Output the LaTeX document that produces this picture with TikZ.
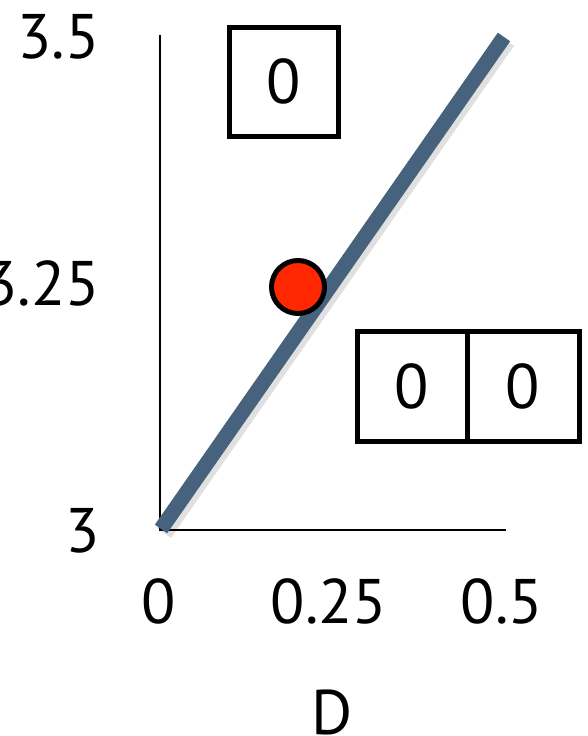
\documentclass[tikz,border=0pt]{standalone}
\usepackage{fontspec}
\setmainfont{PT Sans}
\definecolor{lineblue}{RGB}{70,98,125}
\definecolor{dotred}{RGB}{255,40,0}
\begin{document}
\begin{tikzpicture}[x=1pt,y=-1pt,
  lab/.style={font=\fontsize{63}{70}\selectfont, inner sep=0pt},
  cell/.style={draw, line width=5pt, minimum size=110pt, inner sep=0pt, outer sep=0pt, font=\fontsize{63}{70}\selectfont},
  axis/.style={line width=2.8pt},
  fitline/.style={line width=15pt, draw=lineblue},
  fitshadow/.style={line width=17pt, draw=black, opacity=0.12},
  dotstyle/.style={circle, draw, line width=5pt, fill=dotred, minimum size=53pt, inner sep=0pt}]
\useasboundingbox (0,0) rectangle (588,736);
% axes
\coordinate (origin) at (160,530);
\coordinate (ytop) at (160,35);
\coordinate (xend) at (506,530);
\draw[axis] (ytop) -- (origin) -- (xend);
% fitted line
\coordinate (lstart) at (161,529);
\coordinate (lend) at (504,37);
\draw[fitshadow] ([shift={(3,4)}]lstart) -- ([shift={(3,4)}]lend);
\draw[fitline] (lstart) -- (lend);
% point
\node[dotstyle] (dot) at (298,287) {};
% boxes
\node[cell, minimum size=109pt] (topbox) at (283.5,81.5) {0};
\node[cell] (leftbox) at (412,386) {0};
\node[cell, anchor=west, minimum width=112pt] (rightbox) at (leftbox.east) {0};
% y tick labels
\node[lab, anchor=base east] (y35) at (100,58) {3.5};
\node[lab, anchor=base east] (y325) at (100,305) {3.25};
\node[lab, anchor=base east] (y3) at (100,552) {3};
% x tick labels
\node[lab, anchor=base] (x0) at (159,623) {0};
\node[lab, anchor=base] (x025) at (329,623) {0.25};
\node[lab, anchor=base] (x05) at (502,623) {0.5};
% axis title
\node[lab, anchor=base] (xtitle) at (332,734) {D};
\end{tikzpicture}
\end{document}
